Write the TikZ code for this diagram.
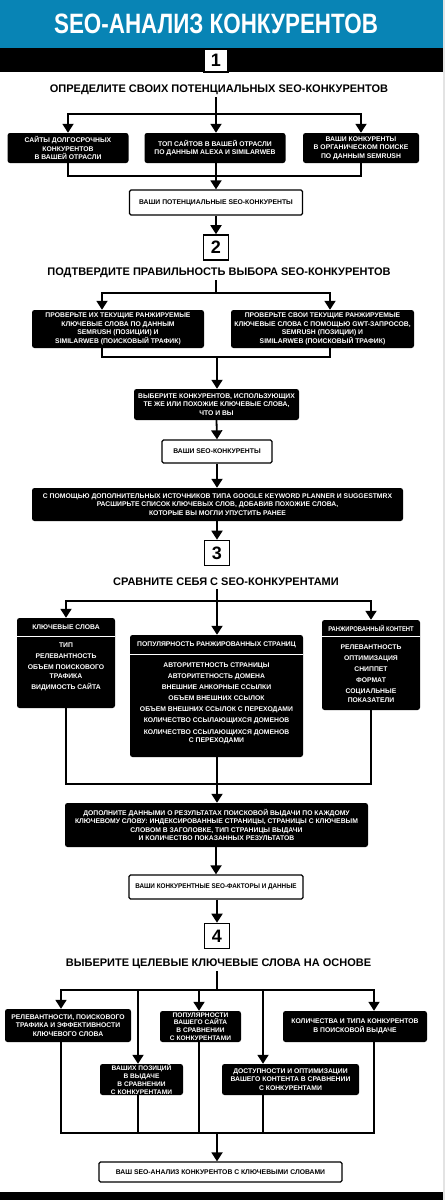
\documentclass[tikz,border=0pt]{standalone}
\usepackage{fontspec}
\usepackage{graphicx}
\setmainfont{Liberation Sans}
\usetikzlibrary{arrows.meta}
\definecolor{titleblue}{RGB}{8,132,181}
\newcommand\bx{\bfseries\fontsize{6.8}{8.6}\selectfont}
\newcommand\bxs{\bfseries\fontsize{6.6}{7.7}\selectfont}
\newcommand\hx{\bfseries\fontsize{11}{13}\selectfont}
\newcommand\nx{\bfseries\fontsize{18}{18}\selectfont}
\tikzset{
  blk/.style={fill=black, rounded corners=2.5pt, text=white, font=\bx, align=center, inner sep=0pt},
  wht/.style={draw=black, line width=1.3pt, fill=white, rounded corners=1.5pt, font=\bx, align=center, inner sep=0pt},
  num/.style={draw=black, line width=1.6pt, fill=white, font=\nx, minimum width=25pt, minimum height=25pt, inner sep=0pt},
  hd/.style={font=\hx, inner sep=0pt, minimum height=14pt},
  ln/.style={line width=1.8pt},
  arr/.style={line width=1.8pt, -{Triangle[width=11pt,length=9pt]}},
  sep/.style={draw=white, line width=0.7pt},
  lst/.style={text=white, font=\bx, align=center, inner sep=0pt},
}
\begin{document}
\begin{tikzpicture}[x=1pt,y=-1pt]
\useasboundingbox (0,0) rectangle (445,1200);
\fill[white] (0,0) rectangle (445,1200);
\fill[gray!22] (443,0) rectangle (445,1200);
% title bands
\fill[titleblue] (0,0) rectangle (443,48);
\fill[black] (0,48) rectangle (443,72);
\node[text=white, font=\bfseries\fontsize{28}{28}\selectfont, inner sep=0pt] (title) at (216,24) {\scalebox{0.8}[1]{SEO-АНАЛИЗ КОНКУРЕНТОВ}};
\fill[black] (0,1192) rectangle (443,1200);

% ---------- section 1
\node[num, minimum width=24pt, minimum height=23pt] (n1) at (216,60.5) {1};
\node[hd] (h1) at (219,90) {ОПРЕДЕЛИТЕ СВОИХ ПОТЕНЦИАЛЬНЫХ SEO-КОНКУРЕНТОВ};
\node[blk, minimum width=121pt, minimum height=30pt] (a1) at (68,148) {САЙТЫ ДОЛГОСРОЧНЫХ\\КОНКУРЕНТОВ\\В ВАШЕЙ ОТРАСЛИ};
\node[blk, minimum width=141pt, minimum height=30pt] (b1) at (215,148) {ТОП САЙТОВ В ВАШЕЙ ОТРАСЛИ\\ПО ДАННЫМ ALEXA И SIMILARWEB};
\node[blk, minimum width=116pt, minimum height=30pt] (c1) at (361,148) {ВАШИ КОНКУРЕНТЫ\\В ОРГАНИЧЕСКОМ ПОИСКЕ\\ПО ДАННЫМ SEMRUSH};
\node[wht, minimum width=173pt, minimum height=25pt] (p1) at (216,202.5) {ВАШИ ПОТЕНЦИАЛЬНЫЕ SEO-КОНКУРЕНТЫ};
\coordinate (j1) at (216,114);
\coordinate (m1) at (216,176);
\draw[ln] (j1 |- h1.south) -- (j1);
\draw[arr] (j1) -| (a1.north);
\draw[arr] (j1) -| (c1.north);
\draw[arr] (j1) -- (j1 |- b1.north);
\draw[ln] (a1.south) |- (m1);
\draw[ln] (c1.south) |- (m1);
\draw[ln] (m1 |- b1.south) -- (m1);
\draw[arr] (m1) -- (p1.north);

% ---------- section 2
\node[num] (n2) at (216,247.5) {2};
\draw[arr] (p1.south) -- (n2.north);
\node[hd] (h2) at (219,273) {ПОДТВЕРДИТЕ ПРАВИЛЬНОСТЬ ВЫБОРА SEO-КОНКУРЕНТОВ};
\node[blk, minimum width=172pt, minimum height=38pt] (L2) at (118,329) {ПРОВЕРЬТЕ ИХ ТЕКУЩИЕ РАНЖИРУЕМЫЕ\\КЛЮЧЕВЫЕ СЛОВА ПО ДАННЫМ\\SEMRUSH (ПОЗИЦИИ) И\\SIMILARWEB (ПОИСКОВЫЙ ТРАФИК)};
\node[blk, minimum width=183pt, minimum height=38pt] (R2) at (322.5,329) {ПРОВЕРЬТЕ СВОИ ТЕКУЩИЕ РАНЖИРУЕМЫЕ\\КЛЮЧЕВЫЕ СЛОВА С ПОМОЩЬЮ GWT-ЗАПРОСОВ,\\SEMRUSH (ПОЗИЦИИ) И\\SIMILARWEB (ПОИСКОВЫЙ ТРАФИК)};
\node[blk, minimum width=165pt, minimum height=31pt] (S2) at (216.5,404.5) {ВЫБЕРИТЕ КОНКУРЕНТОВ, ИСПОЛЬЗУЮЩИХ\\ТЕ ЖЕ ИЛИ ПОХОЖИЕ КЛЮЧЕВЫЕ СЛОВА,\\ЧТО И ВЫ};
\node[wht, minimum width=110pt, minimum height=23pt] (V2) at (217,451.5) {ВАШИ SEO-КОНКУРЕНТЫ};
\node[blk, minimum width=371pt, minimum height=33pt] (E2) at (217.5,504.5) {С ПОМОЩЬЮ ДОПОЛНИТЕЛЬНЫХ ИСТОЧНИКОВ ТИПА GOOGLE KEYWORD PLANNER И SUGGESTMRX\\РАСШИРЬТЕ СПИСОК КЛЮЧЕВЫХ СЛОВ, ДОБАВИВ ПОХОЖИЕ СЛОВА,\\КОТОРЫЕ ВЫ МОГЛИ УПУСТИТЬ РАНЕЕ};
\coordinate (j2) at (216,293);
\coordinate (m2) at (217,357);
\draw[ln] (j2 |- h2.south) -- (j2);
\draw[arr] (j2) -| ([xshift=-16pt]L2.north);
\draw[arr] (j2) -| ([xshift=7.5pt]R2.north);
\draw[ln] ([xshift=-16pt]L2.south) |- (m2);
\draw[ln] ([xshift=7.5pt]R2.south) |- (m2);
\draw[arr] (m2) -- (m2 |- S2.north);
\draw[arr] (S2.south) -- (V2.north);
\draw[arr] (V2.south) -- (V2.south |- E2.north);

% ---------- section 3
\node[num] (n3) at (217,553) {3};
\draw[arr] (n3.north |- E2.south) -- (n3.north);
\node[hd] (h3) at (226,582) {СРАВНИТЕ СЕБЯ С SEO-КОНКУРЕНТАМИ};
\node[blk, minimum width=98pt, minimum height=90pt] (K) at (66,663) {};
\node[blk, minimum width=173pt, minimum height=122pt] (P) at (216.5,696) {};
\node[blk, minimum width=98pt, minimum height=90pt] (R) at (371,665) {};
\node[lst] (Kh) at (66,627) {КЛЮЧЕВЫЕ СЛОВА};
\node[lst] (Ph) at (216.5,644.5) {ПОПУЛЯРНОСТЬ РАНЖИРОВАННЫХ СТРАНИЦ};
\node[lst] (Rh) at (371,628) {\scalebox{0.86}[1]{РАНЖИРОВАННЫЙ КОНТЕНТ}};
\coordinate (Ks) at (0,636);
\coordinate (Ps) at (0,654);
\draw[sep] (K.west |- Ks) -- (K.east |- Ks);
\draw[sep] (P.west |- Ps) -- (P.east |- Ps);
\draw[sep] (R.west |- Ks) -- (R.east |- Ks);
\node[lst, anchor=north] (Kl) at (66,642.5) {ТИП\\[2.5pt]РЕЛЕВАНТНОСТЬ\\[2.5pt]ОБЪЕМ ПОИСКОВОГО\\ТРАФИКА\\[2.5pt]ВИДИМОСТЬ САЙТА};
\node[lst, anchor=north] (Pl) at (216.5,662.5) {АВТОРИТЕТНОСТЬ СТРАНИЦЫ\\[2.5pt]АВТОРИТЕТНОСТЬ ДОМЕНА\\[2.5pt]ВНЕШНИЕ АНКОРНЫЕ ССЫЛКИ\\[2.5pt]ОБЪЕМ ВНЕШНИХ ССЫЛОК\\[2.5pt]ОБЪЕМ ВНЕШНИХ ССЫЛОК С ПЕРЕХОДАМИ\\[2.5pt]КОЛИЧЕСТВО ССЫЛАЮЩИХСЯ ДОМЕНОВ\\[2.5pt]КОЛИЧЕСТВО ССЫЛАЮЩИХСЯ ДОМЕНОВ\\С ПЕРЕХОДАМИ};
\node[lst, anchor=north] (Rl) at (371,644.5) {РЕЛЕВАНТНОСТЬ\\[2.5pt]ОПТИМИЗАЦИЯ\\[2.5pt]СНИППЕТ\\[2.5pt]ФОРМАТ\\[2.5pt]СОЦИАЛЬНЫЕ\\ПОКАЗАТЕЛИ};
\node[blk, minimum width=303pt, minimum height=44pt] (D3) at (216.5,825) {ДОПОЛНИТЕ ДАННЫМИ О РЕЗУЛЬТАТАХ ПОИСКОВОЙ ВЫДАЧИ ПО КАЖДОМУ\\КЛЮЧЕВОМУ СЛОВУ: ИНДЕКСИРОВАННЫЕ СТРАНИЦЫ, СТРАНИЦЫ С КЛЮЧЕВЫМ\\СЛОВОМ В ЗАГОЛОВКЕ, ТИП СТРАНИЦЫ ВЫДАЧИ\\И КОЛИЧЕСТВО ПОКАЗАННЫХ РЕЗУЛЬТАТОВ};
\node[wht, minimum width=174pt, minimum height=24pt] (W3) at (216,887) {\scalebox{0.93}[1]{ВАШИ КОНКУРЕНТНЫЕ SEO-ФАКТОРЫ И ДАННЫЕ}};
\coordinate (j3) at (217,601);
\coordinate (m3) at (217,784);
\draw[ln] (j3 |- h3.south) -- (j3);
\draw[arr] (j3) -| (K.north);
\draw[arr] (j3) -| (R.north);
\draw[arr] (j3) -- (j3 |- P.north);
\draw[ln] (K.south) |- (m3);
\draw[ln] (R.south) |- (m3);
\draw[ln] (m3 |- P.south) -- (m3);
\draw[arr] (m3) -- (m3 |- D3.north);
\draw[arr] (W3.north |- D3.south) -- (W3.north);

% ---------- section 4
\node[num] (n4) at (217,936) {4};
\draw[arr] (n4.north |- W3.south) -- (n4.north);
\node[hd] (h4) at (218.5,964) {ВЫБЕРИТЕ ЦЕЛЕВЫЕ КЛЮЧЕВЫЕ СЛОВА НА ОСНОВЕ};
\node[blk, minimum width=126pt, minimum height=33pt] (A4) at (68,1025.5) {РЕЛЕВАНТНОСТИ, ПОИСКОВОГО\\ТРАФИКА И ЭФФЕКТИВНОСТИ\\КЛЮЧЕВОГО СЛОВА};
\node[blk, font=\bxs, minimum width=81pt, minimum height=31pt] (C4) at (200.5,1026.5) {ПОПУЛЯРНОСТИ\\ВАШЕГО САЙТА\\В СРАВНЕНИИ\\С КОНКУРЕНТАМИ};
\node[blk, minimum width=144pt, minimum height=31pt] (E4) at (355,1026.5) {КОЛИЧЕСТВА И ТИПА КОНКУРЕНТОВ\\В ПОИСКОВОЙ ВЫДАЧЕ};
\node[blk, font=\bxs, minimum width=83pt, minimum height=31pt] (B4) at (141.5,1079.5) {ВАШИХ ПОЗИЦИЙ\\В ВЫДАЧЕ\\В СРАВНЕНИИ\\С КОНКУРЕНТАМИ};
\node[blk, minimum width=137pt, minimum height=31pt] (D4) at (290.5,1079.5) {ДОСТУПНОСТИ И ОПТИМИЗАЦИИ\\ВАШЕГО КОНТЕНТА В СРАВНЕНИИ\\С КОНКУРЕНТАМИ};
\node[wht, minimum width=243pt, minimum height=20pt] (F) at (220.5,1172) {ВАШ SEO-АНАЛИЗ КОНКУРЕНТОВ С КЛЮЧЕВЫМИ СЛОВАМИ};
\coordinate (j4) at (217,990);
\coordinate (m4) at (217,1133);
\draw[ln] (j4 |- h4.south) -- (j4);
\draw[arr] (j4) -| ([xshift=-7pt]A4.north);
\draw[arr] (j4) -| ([xshift=-3.5pt]B4.north);
\draw[arr] (j4) -| ([xshift=-1.5pt]C4.north);
\draw[arr] (j4) -| ([xshift=-27.5pt]D4.north);
\draw[arr] (j4) -| ([xshift=19pt]E4.north);
\draw[ln] ([xshift=-7pt]A4.south) |- (m4);
\draw[ln] ([xshift=-3.5pt]B4.south) |- (m4);
\draw[ln] ([xshift=-1.5pt]C4.south) |- (m4);
\draw[ln] ([xshift=-27.5pt]D4.south) |- (m4);
\draw[ln] ([xshift=19pt]E4.south) |- (m4);
\draw[arr] (m4) -- (m4 |- F.north);
\end{tikzpicture}
\end{document}
